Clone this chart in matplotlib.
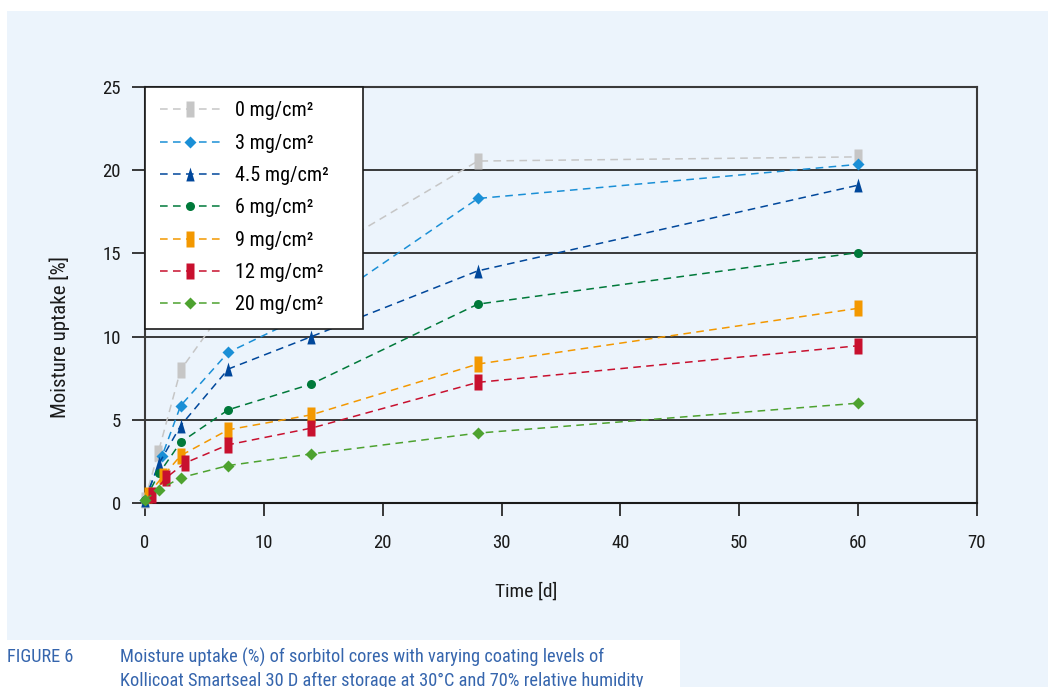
import matplotlib
matplotlib.use("Agg")
import matplotlib.pyplot as plt
from matplotlib import font_manager
from matplotlib.path import Path
from matplotlib.patches import Rectangle

# storage time [d] and moisture uptake [%] per coating level
labels = ['0 mg/cm²', '3 mg/cm²', '4.5 mg/cm²', '6 mg/cm²',
          '9 mg/cm²', '12 mg/cm²', '20 mg/cm²']
days_0 = [0, 1.1, 3, 7, 14, 28, 60]
uptake_0 = [0.2, 3.0, 8.0, 12.0, 14.6, 20.55, 20.8]
days_3 = [0, 1.45, 3, 7, 14, 28, 60]
uptake_3 = [0.2, 2.85, 5.85, 9.05, 11.45, 18.3, 20.35]
days_45 = [0, 1.2, 3, 7, 14, 28, 60]
uptake_45 = [0.2, 2.4, 4.65, 8.05, 10.0, 13.95, 19.1]
days_6 = [0, 1.2, 3, 7, 14, 28, 60]
uptake_6 = [0.2, 1.8, 3.65, 5.6, 7.15, 11.95, 15.05]
days_9 = [0.25, 1.5, 3, 7, 14, 28, 60]
uptake_9 = [0.5, 1.6, 2.85, 4.4, 5.3, 8.35, 11.7]
days_12 = [0.6, 1.75, 3.35, 7, 14, 28, 60]
uptake_12 = [0.5, 1.5, 2.4, 3.5, 4.5, 7.25, 9.45]
days_20 = [0, 1.2, 3, 7, 14, 28, 60]
uptake_20 = [0.2, 0.8, 1.52, 2.25, 2.95, 4.2, 6.0]

x_ticks = [0, 10, 20, 30, 40, 50, 60, 70]
y_ticks = [0, 5, 10, 15, 20, 25]


def narrow_font(size):
    # prefer a condensed face if one is installed, else plain Roboto
    prefs = ['RobotoCondensed-Regular', 'LiberationSansNarrow-Regular',
             'OpenSans_Condensed-Regular', 'OpenSansCondensed',
             'NotoSans-Condensed.', 'NotoSans-CondensedRegular',
             'DejaVuSansCondensed.']
    files = [f.fname for f in font_manager.fontManager.ttflist]
    for p in prefs:
        for fn in files:
            if p in fn.replace(' ', ''):
                return font_manager.FontProperties(fname=fn, size=size)
    return font_manager.FontProperties(family=['Roboto', 'DejaVu Sans'],
                                       size=size * 0.9)


bar = Path([(-0.47, -1), (0.47, -1), (0.47, 1), (-0.47, 1), (-0.47, -1)],
           [Path.MOVETO, Path.LINETO, Path.LINETO, Path.LINETO, Path.CLOSEPOLY])
tri = Path([(0, 1), (-0.6, -1), (0.6, -1), (0, 1)],
           [Path.MOVETO, Path.LINETO, Path.LINETO, Path.CLOSEPOLY])

series = [
    (days_0, uptake_0, '#c6c6c6', bar, 12.2),
    (days_3, uptake_3, '#1a8fd6', 'D', 6.5),
    (days_45, uptake_45, '#00479b', tri, 10.0),
    (days_6, uptake_6, '#00793a', 'o', 6.5),
    (days_9, uptake_9, '#f39800', bar, 12.2),
    (days_12, uptake_12, '#c8102e', bar, 12.2),
    (days_20, uptake_20, '#4da22f', 'D', 6.5),
]

tick_fp = narrow_font(13.5)
leg_fp = narrow_font(14.5)
cap_fp = narrow_font(13.2)

W, H = 1048, 687
fig = plt.figure(figsize=(W / 100, H / 100), dpi=100)
fig.patch.set_facecolor('white')
fig.add_artist(Rectangle((7 / W, 0), 1, 1 - 11 / H, transform=fig.transFigure,
                         facecolor='#ecf4fc', edgecolor='none', zorder=0))
fig.add_artist(Rectangle((0, 0), 680 / W, 47 / H, transform=fig.transFigure,
                         facecolor='white', edgecolor='none', zorder=0))

ax = fig.add_axes([145 / W, 1 - 503 / H, 832 / W, 416 / H])
ax.patch.set_alpha(0)

for (x, y, c, m, ms), lab in zip(series, labels):
    ax.plot(x, y, color=c, lw=1.1, dashes=(5, 3.5), marker=m, markersize=ms,
            markerfacecolor=c, markeredgecolor='none', label=lab, clip_on=False,
            zorder=3)

ax.set_xlim(0, 70)
ax.set_ylim(0, 25)
ax.set_xticks(x_ticks)
ax.set_yticks(y_ticks)
for yv in y_ticks[1:-1]:
    ax.axhline(yv, color='#2a2a2a', lw=1.3, zorder=1)

for side in ['left', 'right', 'top', 'bottom']:
    ax.spines[side].set_linewidth(1.5)
    ax.spines[side].set_color('#3a3a3a')
ax.spines['bottom'].set_color('#1a1a1a')
ax.tick_params(axis='both', direction='out', length=9.4, width=1.3,
               color='#2a2a2a', labelcolor='#1a1a1a')
ax.tick_params(axis='x', pad=13)
ax.tick_params(axis='y', pad=8)
for t in ax.get_xticklabels() + ax.get_yticklabels():
    t.set_fontproperties(tick_fp)

fig.text(60 / W, 1 - 337 / H, 'Moisture uptake [%]', rotation=90,
         ha='center', va='center', color='#1a1a1a',
         fontproperties=narrow_font(15))
fig.text(526 / W, 1 - 592 / H, 'Time [d]', ha='center', va='center',
         color='#1a1a1a', fontproperties=narrow_font(14))

# legend box spans the upper left corner of the plot
leg = ax.legend(loc='upper left', bbox_to_anchor=(0, 0.423, 0.262, 0.577),
                mode='expand', borderaxespad=0, prop=leg_fp, frameon=True,
                fancybox=False, handlelength=3.0, handletextpad=0.75,
                labelspacing=0.66, borderpad=0.72)
leg.get_frame().set_edgecolor('#1a1a1a')
leg.get_frame().set_linewidth(1.2)
leg.get_frame().set_facecolor('white')
leg.get_frame().set_alpha(1)
leg.set_zorder(5)

fig.text(7 / W, 1 - 657 / H, 'FIGURE 6', ha='left', va='center',
         color='#3565ad', fontproperties=cap_fp)
fig.text(120 / W, 1 - 657 / H,
         'Moisture uptake (%) of sorbitol cores with varying coating levels of',
         ha='left', va='center', color='#3565ad', fontproperties=cap_fp)
fig.text(120 / W, 1 - 681 / H,
         'Kollicoat Smartseal 30 D after storage at 30°C and 70% relative humidity',
         ha='left', va='center', color='#3565ad', fontproperties=cap_fp)

fig.savefig('out.png', dpi=100)
